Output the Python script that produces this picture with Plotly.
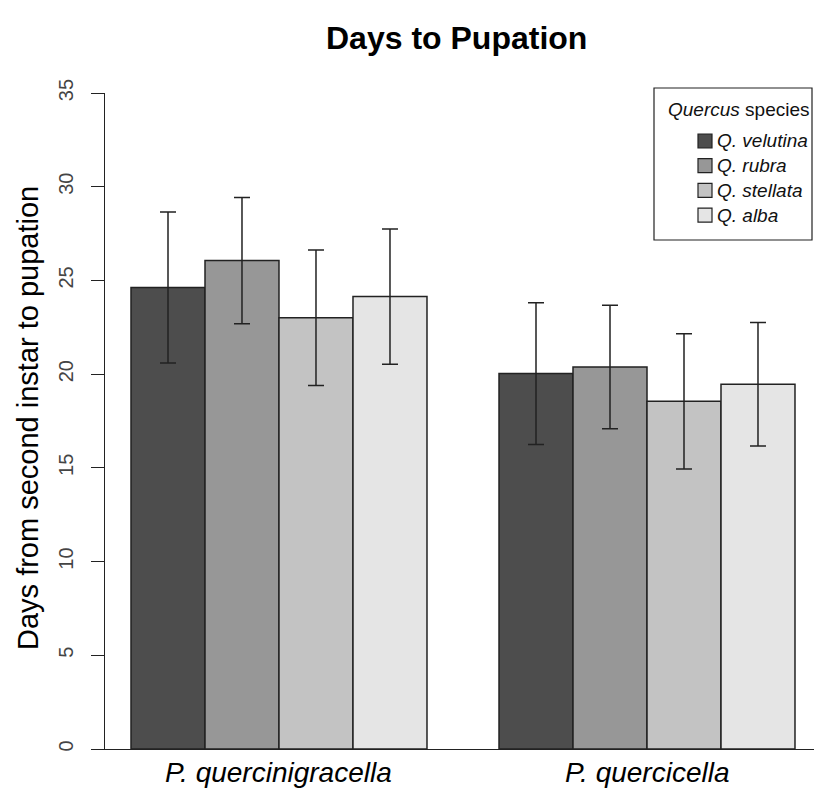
import plotly.graph_objects as go

# Mean days from second instar to pupation, with standard errors
moths = ["P. quercinigracella", "P. quercicella"]
oaks = ["Q. velutina", "Q. rubra", "Q. stellata", "Q. alba"]
means = {
    "Q. velutina": [24.62, 20.03],
    "Q. rubra": [26.06, 20.38],
    "Q. stellata": [23.01, 18.55],
    "Q. alba": [24.14, 19.46],
}
errors = {
    "Q. velutina": [4.03, 3.78],
    "Q. rubra": [3.37, 3.29],
    "Q. stellata": [3.61, 3.61],
    "Q. alba": [3.61, 3.29],
}
fills = ["#4d4d4d", "#979797", "#c3c3c3", "#e5e5e5"]
y_ticks = [0, 5, 10, 15, 20, 25, 30, 35]

W, H = 814, 790
L, R, T, B = 105, 0, 93, 41
FONT = "Liberation Sans, Arial, sans-serif"


def px(x):
    return (x - L) / (W - L - R)


def py(y):
    return (H - B - y) / (H - T - B)


fig = go.Figure()
for oak, col in zip(oaks, fills):
    fig.add_trace(go.Bar(
        x=list(range(len(moths))),
        y=means[oak],
        name=oak,
        marker=dict(color=col, line=dict(color="#222222", width=1.5)),
        error_y=dict(type="data", array=errors[oak], visible=True,
                     color="#222222", thickness=1.5, width=8),
        showlegend=False,
    ))

shapes = [dict(type="rect", xref="paper", yref="paper",
               x0=px(654), x1=px(812), y0=py(240), y1=py(88),
               line=dict(color="#222222", width=1.2), fillcolor="white")]
annotations = [
    dict(text="<b>Days to Pupation</b>", xref="paper", yref="paper",
         x=px(456), y=py(38), showarrow=False, xanchor="center", yanchor="middle",
         font=dict(family=FONT, size=32, color="black")),
    dict(text="Days from second instar to pupation", xref="paper", yref="paper",
         x=px(28), y=py(418), showarrow=False, textangle=-90,
         xanchor="center", yanchor="middle",
         font=dict(family=FONT, size=29, color="black")),
    dict(text="<i>Quercus</i> species", xref="paper", yref="paper",
         x=px(666), y=py(109), showarrow=False, xanchor="left", yanchor="middle",
         font=dict(family=FONT, size=19, color="#111111")),
]
for i, (oak, col) in enumerate(zip(oaks, fills)):
    cy = 141 + i * 24.7
    shapes.append(dict(type="rect", xref="paper", yref="paper",
                       x0=px(698), x1=px(712), y0=py(cy + 7), y1=py(cy - 7),
                       line=dict(color="#222222", width=1.2), fillcolor=col))
    annotations.append(dict(text=f"<i>{oak}</i>", xref="paper", yref="paper",
                            x=px(715), y=py(cy), showarrow=False,
                            xanchor="left", yanchor="middle",
                            font=dict(family=FONT, size=19, color="#111111")))
for i, m in enumerate(moths):
    annotations.append(dict(text=f"<i>{m}</i>", xref="x", yref="paper",
                            x=i, y=py(772), showarrow=False,
                            xanchor="center", yanchor="middle",
                            font=dict(family=FONT, size=28, color="black")))

fig.update_layout(
    width=W, height=H,
    margin=dict(l=L, r=R, t=T, b=B),
    paper_bgcolor="white", plot_bgcolor="white",
    barmode="group", bargap=0.1957, bargroupgap=0,
    shapes=shapes, annotations=annotations,
    font=dict(family=FONT),
    xaxis=dict(
        range=[-0.4728, 1.4538],
        showticklabels=False,
        ticks="", showgrid=False, zeroline=False,
        showline=True, linecolor="#222222", linewidth=1.2,
    ),
    yaxis=dict(
        range=[0, 35], tickvals=y_ticks,
        tickangle=-90, ticks="outside", ticklen=13, tickwidth=1.2,
        tickcolor="#222222", ticklabelstandoff=10,
        tickfont=dict(family=FONT, size=20, color="#444444"),
        showgrid=False, zeroline=False,
        showline=True, linecolor="#222222", linewidth=1.2,
    ),
)

fig.write_html("out.html")
